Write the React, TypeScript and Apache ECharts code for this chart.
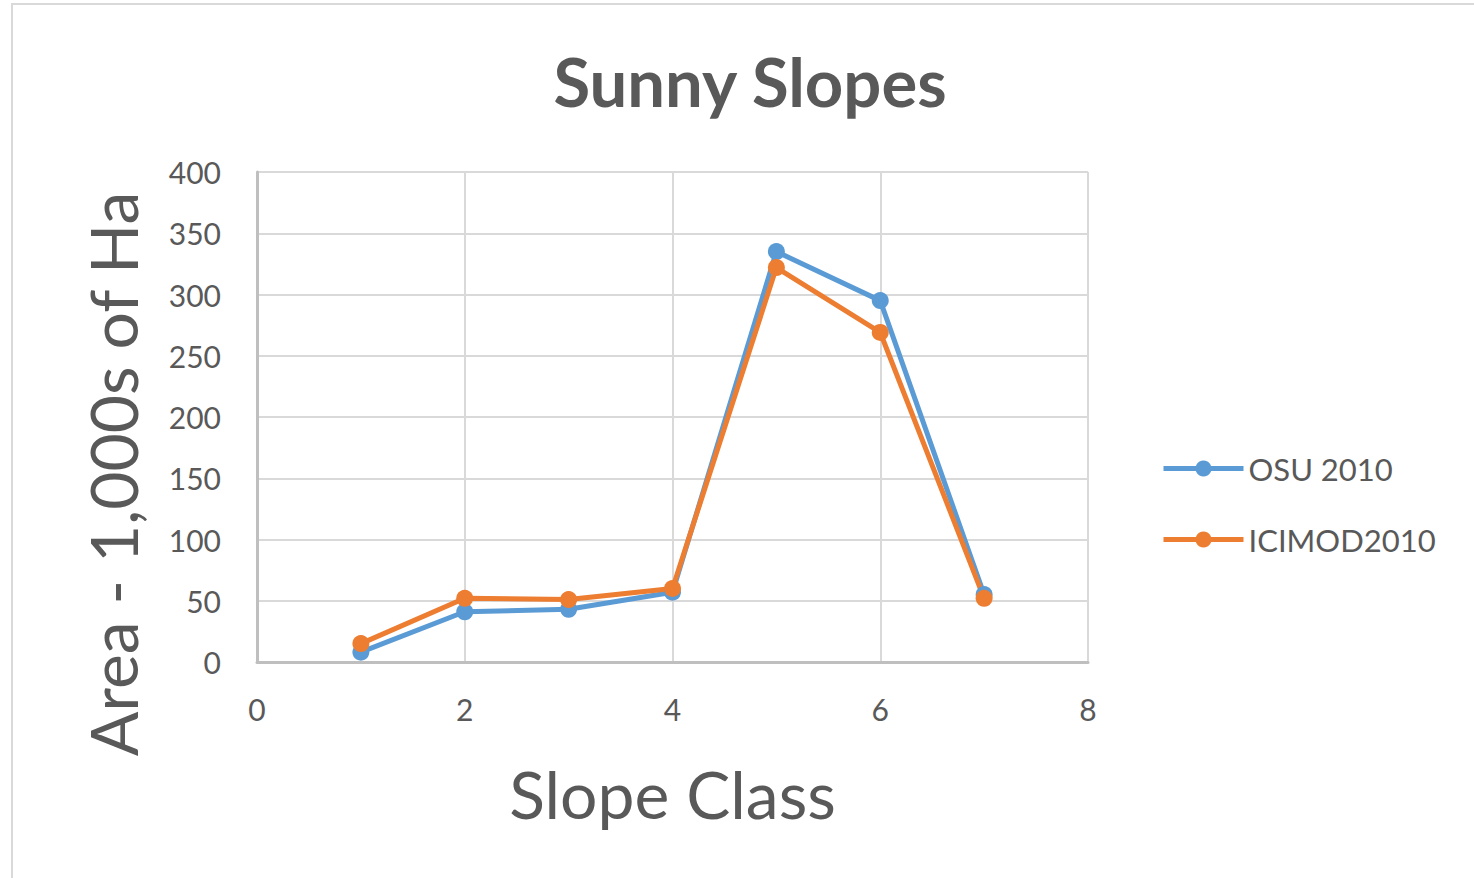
import React, { useEffect, useRef } from "react";
import * as echarts from "echarts";

const slopeClasses = [1, 2, 3, 4, 5, 6, 7];
const osu2010 = [8, 41, 43, 57, 335, 295, 55];
const icimod2010 = [15, 52, 51, 60, 322, 269, 52];
const seriesNames = ["OSU 2010", "ICIMOD2010"];
const titleText = "Sunny Slopes";
const xName = "Slope Class";
const yName = "Area - 1,000s of Ha";

const FONT = "Lato, 'Open Sans', sans-serif";

export default function App() {
  const ref = useRef<HTMLDivElement>(null);
  useEffect(() => {
    const chart = echarts.init(ref.current!, null, { renderer: "svg" });
    chart.setOption({
      animation: false,
      backgroundColor: "#ffffff",
      title: {
        text: titleText,
        left: 745,
        top: 42,
        textAlign: "center",
        textStyle: { fontFamily: FONT, fontSize: 67, fontWeight: "bold", color: "#595959" },
      },
      graphic: [
        {
          type: "rect",
          shape: { x: 12, y: 4, width: 1600, height: 1000 },
          style: { fill: "none", stroke: "#d9d9d9", lineWidth: 2 },
          silent: true,
          z: -1,
        },
        {
          type: "text",
          x: 112,
          y: 474,
          rotation: Math.PI / 2,
          style: {
            text: yName,
            fontFamily: FONT,
            fontSize: 66,
            fill: "#595959",
            align: "center",
            verticalAlign: "middle",
          },
        },
      ],
      legend: {
        orient: "vertical",
        left: 1156,
        top: 448,
        itemWidth: 80,
        itemHeight: 20,
        itemGap: 40,
        lineStyle: { width: 5 },
        textStyle: { fontFamily: FONT, fontSize: 31, color: "#595959" },
        data: seriesNames,
      },
      grid: { left: 257, right: 386, top: 172, bottom: 216 },
      xAxis: {
        type: "value",
        min: 0,
        max: 8,
        interval: 2,
        name: xName,
        nameLocation: "middle",
        nameGap: 98,
        nameTextStyle: { fontFamily: FONT, fontSize: 66, color: "#595959" },
        axisLine: { show: true, lineStyle: { color: "#bfbfbf", width: 3 } },
        axisTick: { show: false },
        axisLabel: { fontFamily: FONT, fontSize: 30, color: "#595959", margin: 32 },
        splitLine: { show: true, lineStyle: { color: "#d9d9d9", width: 2 } },
      },
      yAxis: {
        type: "value",
        min: 0,
        max: 400,
        interval: 50,
        axisLine: { show: true, lineStyle: { color: "#bfbfbf", width: 3 } },
        axisTick: { show: false },
        axisLabel: { fontFamily: FONT, fontSize: 30, color: "#595959", margin: 36 },
        splitLine: { show: true, lineStyle: { color: "#d9d9d9", width: 2 } },
      },
      series: [
        {
          name: seriesNames[0],
          type: "line",
          data: slopeClasses.map((x, i) => [x, osu2010[i]]),
          symbol: "circle",
          symbolSize: 17,
          itemStyle: { color: "#5b9bd5" },
          lineStyle: { color: "#5b9bd5", width: 5 },
        },
        {
          name: seriesNames[1],
          type: "line",
          data: slopeClasses.map((x, i) => [x, icimod2010[i]]),
          symbol: "circle",
          symbolSize: 17,
          itemStyle: { color: "#ed7d31" },
          lineStyle: { color: "#ed7d31", width: 5 },
        },
      ],
    });
    return () => chart.dispose();
  }, []);
  return (
    <div
      ref={ref}
      style={{ position: "fixed", left: 0, top: 0, width: 1474, height: 878, background: "#fff" }}
    />
  );
}
